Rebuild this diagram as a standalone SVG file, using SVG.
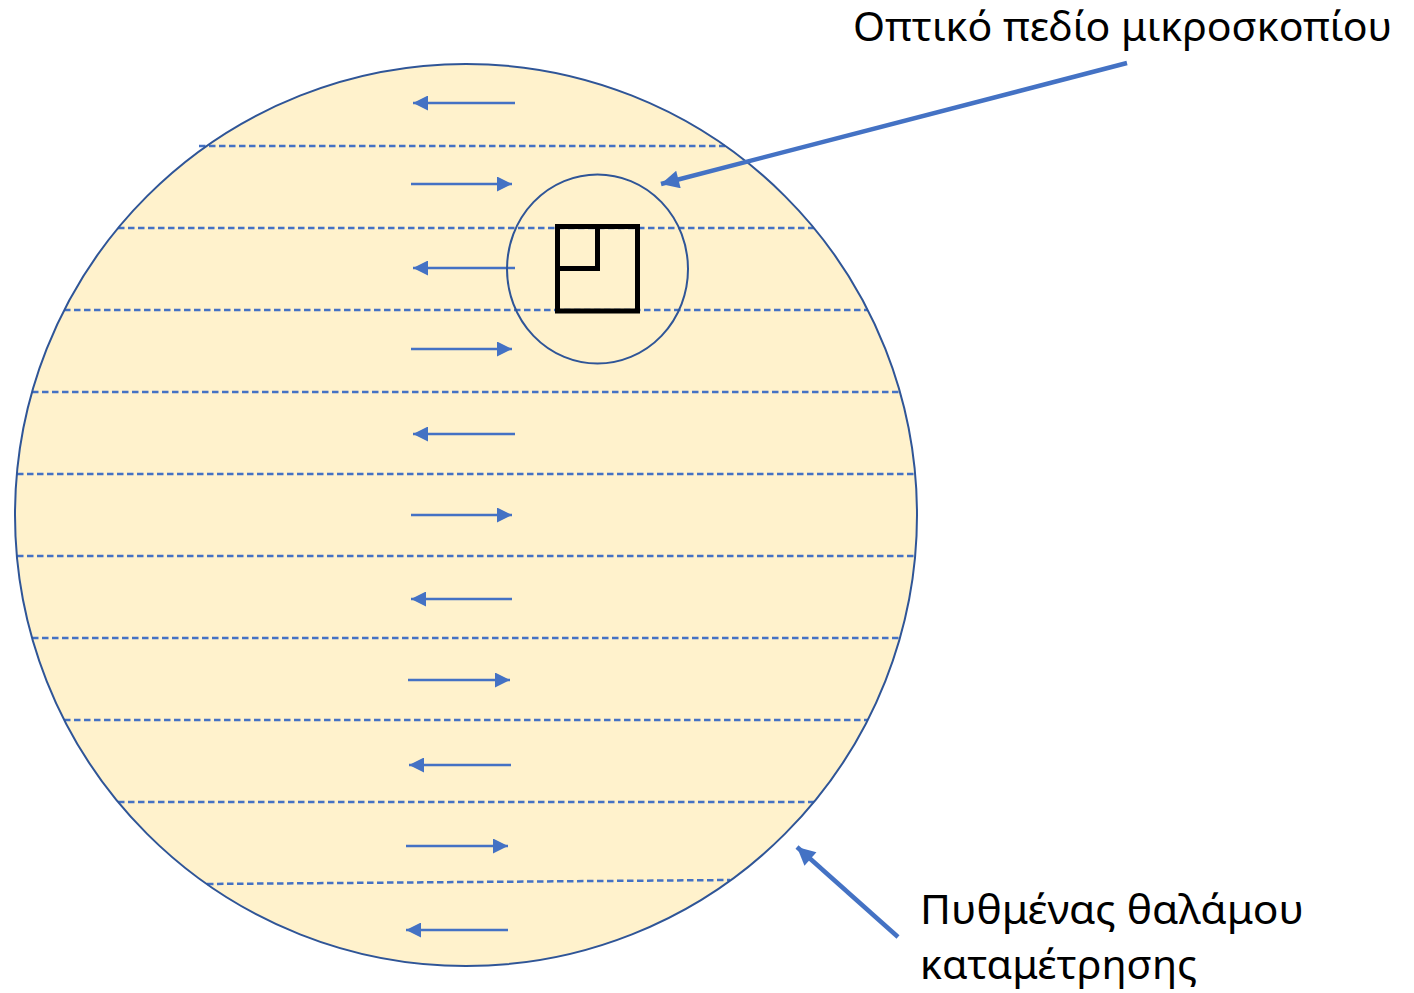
<svg xmlns="http://www.w3.org/2000/svg" width="1414" height="993" viewBox="0 0 1414 993">
  <style>
    .rim { fill: none; stroke: #2F5597; stroke-width: 2; }
    .lane { stroke: #4472C4; stroke-width: 2.5; stroke-dasharray: 6.5 3.5; fill: none; }
    .dir { stroke: #4472C4; stroke-width: 2.5; fill: none; }
    .ptr { stroke: #4472C4; stroke-width: 4.5; fill: none; }
    .lbl { font-family: "Noto Sans", "Open Sans", "DejaVu Sans", sans-serif; font-size: 40px; fill: #000; }
  </style>
  <defs>
    <marker id="headSmall" viewBox="0 0 10 10" refX="10" refY="5" markerUnits="userSpaceOnUse" markerWidth="15" markerHeight="15" orient="auto">
      <path d="M0,0 L10,5 L0,10 Z" fill="#4472C4"/>
    </marker>
    <marker id="headBig" viewBox="0 0 10 10" refX="10" refY="5" markerUnits="userSpaceOnUse" markerWidth="20" markerHeight="18" orient="auto">
      <path d="M0,0 L10,5 L0,10 Z" fill="#4472C4"/>
    </marker>
  </defs>

  <!-- chamber floor -->
  <g id="chamber">
    <circle cx="466" cy="515" r="451" fill="#FFF2CC"/>
  </g>

  <!-- scan lanes -->
  <g id="lanes">
    <line class="lane" x1="199" y1="146" x2="725" y2="146"/>
    <line class="lane" x1="118" y1="228" x2="814" y2="228"/>
    <line class="lane" x1="64" y1="310" x2="868" y2="310"/>
    <line class="lane" x1="32" y1="392" x2="900" y2="392"/>
    <line class="lane" x1="17" y1="474" x2="915" y2="474"/>
    <line class="lane" x1="17" y1="556" x2="915" y2="556"/>
    <line class="lane" x1="32" y1="638" x2="900" y2="638"/>
    <line class="lane" x1="64" y1="720" x2="868" y2="720"/>
    <line class="lane" x1="118" y1="802" x2="814" y2="802"/>
    <line class="lane" x1="207" y1="884" x2="730" y2="880"/>
  </g>

  <g id="chamber-rim">
    <circle class="rim" cx="466" cy="515" r="451"/>
  </g>

  <!-- scan direction arrows -->
  <g id="connectors">
    <line class="dir" x1="515" y1="103" x2="413" y2="103" marker-end="url(#headSmall)"/>
    <line class="dir" x1="411" y1="184" x2="512" y2="184" marker-end="url(#headSmall)"/>
    <line class="dir" x1="515" y1="268" x2="413" y2="268" marker-end="url(#headSmall)"/>
    <line class="dir" x1="411" y1="349" x2="512" y2="349" marker-end="url(#headSmall)"/>
    <line class="dir" x1="515" y1="434" x2="413" y2="434" marker-end="url(#headSmall)"/>
    <line class="dir" x1="411" y1="515" x2="512" y2="515" marker-end="url(#headSmall)"/>
    <line class="dir" x1="512" y1="599" x2="411" y2="599" marker-end="url(#headSmall)"/>
    <line class="dir" x1="408" y1="680" x2="510" y2="680" marker-end="url(#headSmall)"/>
    <line class="dir" x1="511" y1="765" x2="409" y2="765" marker-end="url(#headSmall)"/>
    <line class="dir" x1="406" y1="846" x2="508" y2="846" marker-end="url(#headSmall)"/>
    <line class="dir" x1="508" y1="930" x2="406" y2="930" marker-end="url(#headSmall)"/>

    <!-- label pointers -->
    <line class="ptr" x1="1127" y1="63" x2="661" y2="184" marker-end="url(#headBig)"/>
    <line class="ptr" x1="898" y1="937" x2="797" y2="847" marker-end="url(#headBig)"/>
  </g>

  <!-- microscope field of view -->
  <g id="field-of-view">
    <ellipse class="rim" cx="597.5" cy="269" rx="90.5" ry="94.5"/>
    <rect x="557.5" y="226.5" width="80" height="84.5" fill="none" stroke="#000" stroke-width="5"/>
    <path d="M597.5,226.5 V268.5 H557.5" fill="none" stroke="#000" stroke-width="5"/>
  </g>

  <g id="label-field">
    <text class="lbl" x="853" y="41" textLength="539" lengthAdjust="spacingAndGlyphs">Οπτικό πεδίο μικροσκοπίου</text>
  </g>

  <g id="label-floor">
    <text class="lbl" x="920" y="924" textLength="384" lengthAdjust="spacingAndGlyphs">Πυθμένας θαλάμου</text>
    <text class="lbl" x="920" y="979" textLength="277" lengthAdjust="spacingAndGlyphs">καταμέτρησης</text>
  </g>
</svg>
